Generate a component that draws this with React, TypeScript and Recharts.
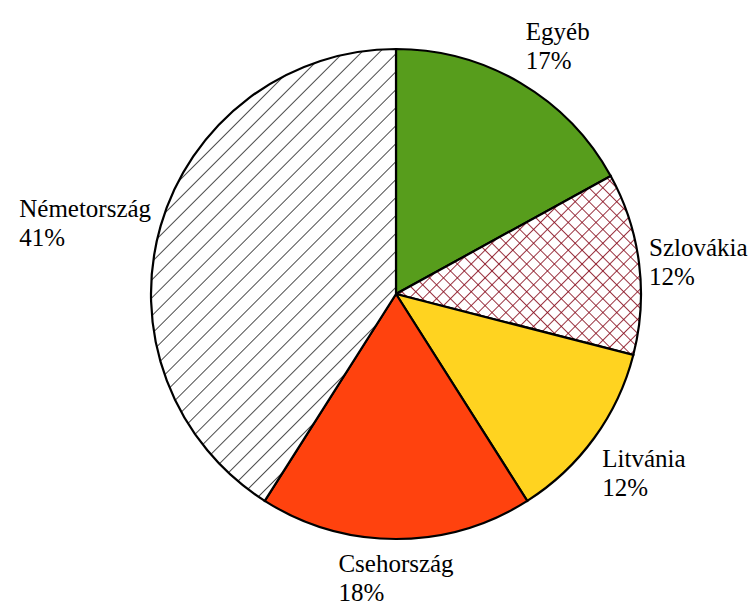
import { PieChart, Pie, Cell } from 'recharts'

const countries = ['Egyéb', 'Szlovákia', 'Litvánia', 'Csehország', 'Németország']
const shares = [17, 12, 12, 18, 41]
const fills = ['#579d1c', 'url(#crossHatch)', '#ffd320', '#ff420e', 'url(#diagHatch)']

const data = countries.map((name, i) => ({ name, value: shares[i] }))

const CX = 396
const CY = 294
const R = 245
const FAMILY = '"Liberation Serif", "Times New Roman", serif'
const RAD = Math.PI / 180

// label blocks, placed like an office suite does it: corner or edge of the
// block touching a point just outside the rim, at the slice's mid angle
// (slices run clockwise from 12 o'clock, same as the Pie below)
const total = shares.reduce((a, b) => a + b, 0)
const labels = shares.map((v, i) => {
  const before = shares.slice(0, i).reduce((a, b) => a + b, 0)
  const compass = ((before + v / 2) / total) * 360
  const r = R + 10
  const ax = CX + r * Math.sin(compass * RAD)
  const ay = CY - r * Math.cos(compass * RAD)
  const sector = Math.round(compass / 45) % 8
  let tx = '-50%'
  if (sector >= 1 && sector <= 3) tx = '0%'
  if (sector >= 5 && sector <= 7) tx = '-100%'
  let ty = '-50%'
  if (sector === 7 || sector === 0 || sector === 1) ty = '-100%'
  if (sector >= 3 && sector <= 5) ty = '0%'
  return { name: countries[i], pct: `${v}%`, ax, ay, tx, ty }
})

export default function App() {
  return (
    <div style={{ position: 'absolute', left: 0, top: 0, width: 752, height: 605, background: '#fff' }}>
      <svg width={0} height={0} style={{ position: 'absolute', left: 0, top: 0 }}>
        <defs>
          <pattern id="diagHatch" patternUnits="userSpaceOnUse" width={12.7} height={12.7} patternTransform="rotate(45)">
            <rect width={12.7} height={12.7} fill="#fff" />
            <line x1={0} y1={0} x2={0} y2={12.7} stroke="#000" strokeWidth={1.4} />
          </pattern>
          <pattern id="crossHatch" patternUnits="userSpaceOnUse" width={9.8} height={9.8} patternTransform="rotate(45)">
            <rect width={9.8} height={9.8} fill="#fff" />
            <line x1={0} y1={0} x2={0} y2={9.8} stroke="#8a1020" strokeWidth={1.7} />
            <line x1={0} y1={0} x2={9.8} y2={0} stroke="#8a1020" strokeWidth={1.7} />
          </pattern>
        </defs>
      </svg>
      <PieChart width={752} height={605} margin={{ top: 0, right: 0, bottom: 0, left: 0 }}>
        <Pie
          data={data}
          dataKey="value"
          nameKey="name"
          cx={CX}
          cy={CY}
          outerRadius={R}
          startAngle={90}
          endAngle={-270}
          stroke="#000"
          strokeWidth={2.2}
          label={false}
          labelLine={false}
          isAnimationActive={false}
        >
          {data.map((d, i) => (
            <Cell key={d.name} fill={fills[i]} />
          ))}
        </Pie>
      </PieChart>
      {labels.map((l) => (
        <div
          key={l.name}
          style={{
            position: 'absolute',
            left: l.ax,
            top: l.ay,
            transform: `translate(${l.tx}, ${l.ty})`,
            fontFamily: FAMILY,
            fontSize: 25,
            lineHeight: '29px',
            whiteSpace: 'nowrap',
            textAlign: 'left',
            color: '#000',
          }}
        >
          <div>{l.name}</div>
          <div>{l.pct}</div>
        </div>
      ))}
    </div>
  )
}
